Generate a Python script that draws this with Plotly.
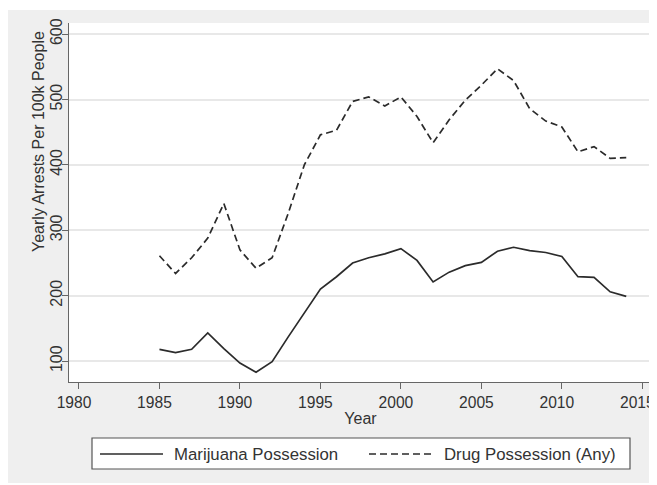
import plotly.graph_objects as go

years = list(range(1985, 2015))
marijuana = [118, 113, 118, 143, 119, 97, 83, 99, 137, 173, 210, 229, 250, 258, 264,
             272, 254, 221, 236, 246, 251, 268, 274, 269, 266, 260, 229, 228, 206, 199]
drug_any = [261, 234, 258, 288, 341, 270, 242, 258, 326, 400, 446, 453, 497, 504, 490,
            504, 474, 434, 469, 499, 522, 547, 529, 486, 467, 458, 420, 428, 410, 411]
series_names = ["Marijuana Possession", "Drug Possession (Any)"]
x_ticks = [1980, 1985, 1990, 1995, 2000, 2005, 2010, 2015]
y_ticks = [100, 200, 300, 400, 500, 600]

LINE_COLOR = "#2b2b2b"
BG = "#efefef"
FONT = "Liberation Sans, Arial, sans-serif"
TXT = "#333333"

OFF = 8  # page body margin
W, H = 649, 475
# plot area in page coordinates: x 69..652, y 23..382
ml = 69 - OFF
mt = 23 - OFF
mr = W - (652 - OFF)
mb = H - (382 - OFF)
pw, ph = W - ml - mr, H - mt - mb

def px_x(p):
    return (p - OFF - ml) / pw

def px_y(p):
    return (H - mb - (p - OFF)) / ph

fig = go.Figure()
fig.add_trace(go.Scatter(x=years, y=marijuana, mode="lines", name=series_names[0],
                         line=dict(color=LINE_COLOR, width=1.7), showlegend=False))
fig.add_trace(go.Scatter(x=years, y=drug_any, mode="lines", name=series_names[1],
                         line=dict(color=LINE_COLOR, width=1.7, dash="7px,4px"), showlegend=False))

shapes = [
    # thin white strip at the top of the graph region
    dict(type="rect", xref="paper", yref="paper", x0=px_x(0), x1=px_x(660),
         y0=px_y(10), y1=px_y(0), fillcolor="white", line_width=0, layer="above"),
    # legend box
    dict(type="rect", xref="paper", yref="paper", x0=px_x(92), x1=px_x(630),
         y0=px_y(469), y1=px_y(438), fillcolor="white",
         line=dict(color="#555555", width=1.2), layer="above"),
    dict(type="line", xref="paper", yref="paper", x0=px_x(100), x1=px_x(163),
         y0=px_y(454), y1=px_y(454), line=dict(color=LINE_COLOR, width=1.7)),
    dict(type="line", xref="paper", yref="paper", x0=px_x(369), x1=px_x(432),
         y0=px_y(454), y1=px_y(454), line=dict(color=LINE_COLOR, width=1.7, dash="7px,4px")),
]

annotations = [
    dict(text=series_names[0], xref="paper", yref="paper", x=px_x(172), y=px_y(454),
         xanchor="left", yanchor="middle", showarrow=False,
         font=dict(family=FONT, size=16.8, color=TXT)),
    dict(text=series_names[1], xref="paper", yref="paper", x=px_x(442), y=px_y(454),
         xanchor="left", yanchor="middle", showarrow=False,
         font=dict(family=FONT, size=16.8, color=TXT)),
    dict(text="Yearly Arrests Per 100k People", xref="paper", yref="paper",
         x=px_x(38), y=px_y(142), xanchor="center", yanchor="middle", textangle=-90,
         showarrow=False, font=dict(family=FONT, size=16, color=TXT)),
]

fig.update_layout(
    width=W, height=H,
    margin=dict(l=ml, r=mr, t=mt, b=mb, pad=0, autoexpand=False),
    paper_bgcolor=BG, plot_bgcolor="white",
    font=dict(family=FONT, size=16, color=TXT),
    shapes=shapes, annotations=annotations,
    showlegend=False,
)
fig.update_xaxes(range=[1979.38, 2015.6], tickvals=x_ticks, ticks="outside", ticklen=6,
                 tickcolor="#666666", tickwidth=1.2, showline=True, linecolor="#666666",
                 linewidth=1.2, showgrid=False, zeroline=False, ticklabeloverflow="allow",
                 automargin=False, ticklabelshift=-5, tickfont=dict(size=15.6),
                 title=dict(text="Year", standoff=2, font=dict(size=16)))
fig.update_yaxes(range=[68, 617], tickvals=y_ticks, ticks="outside", ticklen=6,
                 tickcolor="#666666", tickwidth=1.2, showline=True, linecolor="#666666",
                 linewidth=1.2, showgrid=True, gridcolor="#e8e8e8", gridwidth=1.6,
                 zeroline=False, tickangle=-90, ticklabelstandoff=-6, automargin=False)

fig.write_html("out.html")
